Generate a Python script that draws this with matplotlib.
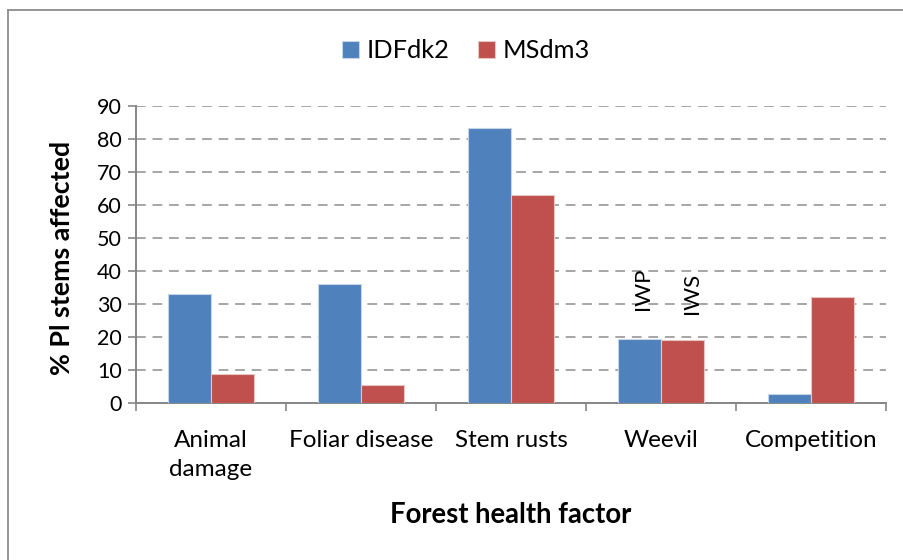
import matplotlib
matplotlib.use("Agg")
import matplotlib.pyplot as plt
import numpy as np
from matplotlib.lines import Line2D

categories = ["Animal\ndamage", "Foliar disease", "Stem rusts", "Weevil", "Competition"]
series_names = ["IDFdk2", "MSdm3"]
idfdk2 = [33.2, 36.1, 83.2, 19.5, 2.8]
msdm3 = [8.8, 5.5, 63.1, 19.2, 32.1]
yticks = list(range(0, 100, 10))

plt.rcParams['font.family'] = ['Lato', 'DejaVu Sans']

fig = plt.figure(figsize=(9.04, 5.6), dpi=100)
ax = fig.add_axes([136/904, 1-403.3/560, (886-136)/904, (403.3-106)/560])

x = np.arange(len(categories))
w = 0.287
blue = "#4F81BD"
red = "#C0504D"
b1 = ax.bar(x - w/2, idfdk2, w, color=blue, edgecolor="#C6D4E8", linewidth=0.8, zorder=3, label=series_names[0])
b2 = ax.bar(x + w/2, msdm3, w, color=red, edgecolor="#E8C4C3", linewidth=0.8, zorder=3, label=series_names[1])

ax.set_xlim(-0.5, len(categories) - 0.5)
ax.set_ylim(0, 90)
ax.set_yticks(yticks)
ax.set_yticklabels([str(t) for t in yticks], fontsize=15.5)
ax.set_xticks(x)
ax.set_xticklabels(categories, fontsize=17.5, linespacing=1.5)
ax.tick_params(axis='x', length=0, pad=19)
ax.set_xticks(np.arange(-0.5, len(categories), 1), minor=True)
ax.tick_params(axis='x', which='minor', length=6, width=1.2, color="#868686", direction='out')
ax.tick_params(axis='y', length=6, width=1.2, color="#868686", direction='out', pad=4)

ax.yaxis.grid(True, linestyle=(0, (5, 3.5)), color="#A6A6A6", linewidth=1.4, zorder=0)
ax.set_axisbelow(True)
for s in ['top', 'right']:
    ax.spines[s].set_visible(False)
for s in ['left', 'bottom']:
    ax.spines[s].set_color("#868686")
    ax.spines[s].set_linewidth(1.4)

fig.text(62/904, 1-258/560, "% Pl stems affected", rotation=90, ha='center', va='center',
         fontsize=19.3, fontweight='bold')
fig.text(511/904, 1-515/560, "Forest health factor", ha='center', va='center',
         fontsize=19.8, fontweight='bold')

# annotations on weevil bars
ax.text(2.88, 34.6, "IWP", rotation=90, ha='center', va='center', fontsize=16)
ax.text(3.21, 33.3, "IWS", rotation=90, ha='center', va='center', fontsize=16)

leg = fig.legend(handles=[b1, b2], loc='center', bbox_to_anchor=(466/904, 1-51/560), ncol=2,
                 frameon=False, fontsize=18.3, handlelength=0.68, handleheight=0.68,
                 handletextpad=0.3, columnspacing=1.1, borderpad=0, borderaxespad=0)

# outer chart border (left and top visible)
fig.add_artist(Line2D([7.5/904, 7.5/904], [0, 1-9.5/560], transform=fig.transFigure, color="#8C8C8C", linewidth=1.3))
fig.add_artist(Line2D([7.5/904, 1], [1-9.5/560, 1-9.5/560], transform=fig.transFigure, color="#8C8C8C", linewidth=1.3))

fig.savefig("out.png", dpi=100)
